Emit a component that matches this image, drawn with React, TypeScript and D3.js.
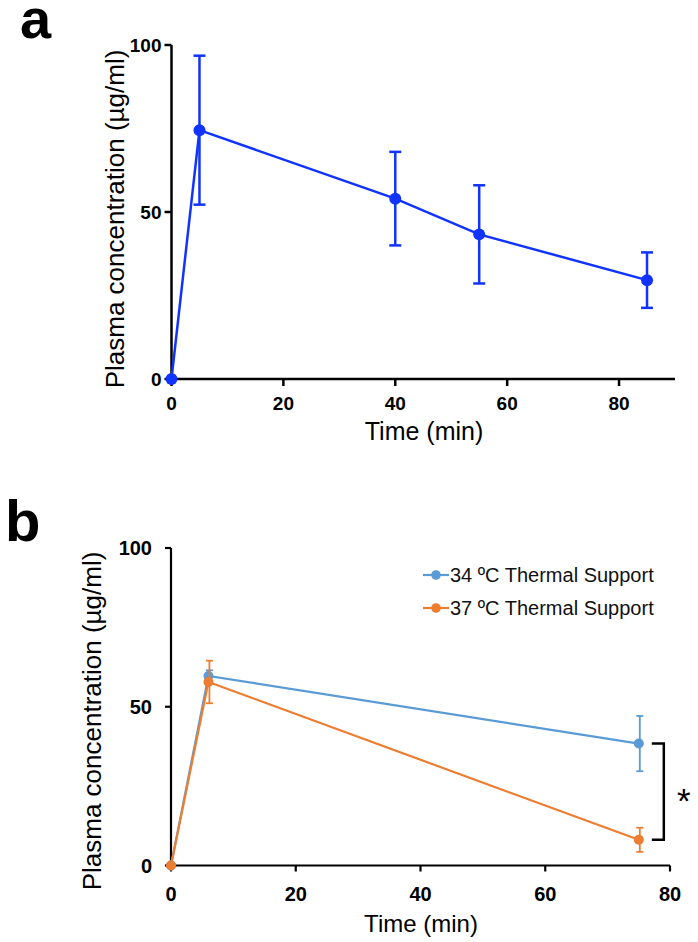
import React from "react";
import * as d3 from "d3";

// Panel a data
const timeA = [0, 5, 40, 55, 85];
const meanA = [0, 74.5, 54, 43.3, 29.6];
const sdA = [0, 22.3, 14, 14.7, 8.3];

// Panel b data
const timeB = [0, 6, 75];
const seriesBNames = ["34 ºC Thermal Support", "37 ºC Thermal Support"];
const meanB34 = [0, 59.7, 38.4];
const sdB34 = [0, 1.8, 8.7];
const meanB37 = [0, 57.8, 8.1];
const sdB37 = [0, 6.7, 3.8];

const yTicks = [0, 50, 100];
const xTicksA = [0, 20, 40, 60, 80];
const xTicksB = [0, 20, 40, 60, 80];

const FONT = "'Liberation Sans', Arial, Helvetica, sans-serif";

export default function App() {
  const xA = d3.scaleLinear().domain([0, 90]).range([171.5, 675]);
  const yA = d3.scaleLinear().domain([0, 100]).range([379, 45]);
  const xB = d3.scaleLinear().domain([0, 80]).range([171, 670]);
  const yB = d3.scaleLinear().domain([0, 100]).range([865.5, 548]);

  const blueA = "#1133ff";
  const blueB = "#5b9bd5";
  const orangeB = "#ed7d31";

  const lineA = d3
    .line<number>()
    .x((_, i) => xA(timeA[i]))
    .y((d) => yA(d));
  const lineB = d3
    .line<number>()
    .x((_, i) => xB(timeB[i]))
    .y((d) => yB(d));

  const seriesB = [
    { name: seriesBNames[0], mean: meanB34, sd: sdB34, color: blueB },
    { name: seriesBNames[1], mean: meanB37, sd: sdB37, color: orangeB },
  ];

  const lastI = timeB.length - 1;
  const bx = xB(timeB[lastI]) + 25;
  const bTop = yB(meanB34[lastI]);
  const bBot = yB(meanB37[lastI]);

  return (
    <svg
      width={698}
      height={942}
      style={{ position: "absolute", left: 0, top: 0, background: "#fff" }}
      fontFamily={FONT}
    >
      <rect x={0} y={0} width={698} height={942} fill="#fff" />
      <text x={20} y={38} fontSize={56} fontWeight="bold">a</text>
      <text x={5} y={541} fontSize={58} fontWeight="bold">b</text>

      {/* ---------- Panel a ---------- */}
      <g>
        <line x1={xA(0)} x2={xA(0)} y1={yA(100)} y2={yA(0)} stroke="#000" strokeWidth={2.5} />
        <line x1={xA(0)} x2={xA(90)} y1={yA(0)} y2={yA(0)} stroke="#000" strokeWidth={2.5} />
        {yTicks.map((t) => (
          <g key={"ya" + t}>
            <line x1={xA(0) - 7} x2={xA(0)} y1={yA(t)} y2={yA(t)} stroke="#000" strokeWidth={2.5} />
            <text x={xA(0) - 10} y={yA(t)} dy="0.36em" textAnchor="end" fontSize={19} fontWeight="bold">
              {t}
            </text>
          </g>
        ))}
        {xTicksA.map((t) => (
          <g key={"xa" + t}>
            <line x1={xA(t)} x2={xA(t)} y1={yA(0)} y2={yA(0) + 7} stroke="#000" strokeWidth={2.5} />
            <text x={xA(t)} y={yA(0) + 31} textAnchor="middle" fontSize={19} fontWeight="bold">
              {t}
            </text>
          </g>
        ))}
        <text x={424} y={440} textAnchor="middle" fontSize={25}>Time (min)</text>
        <text
          transform={`translate(124, 219) rotate(-90)`}
          textAnchor="middle"
          fontSize={26}
        >
          Plasma concentration (µg/ml)
        </text>

        <path d={lineA(meanA) || ""} fill="none" stroke={blueA} strokeWidth={2.5} />
        {meanA.map((m, i) =>
          sdA[i] > 0 ? (
            <g key={"ea" + i} stroke={blueA} strokeWidth={2.5}>
              <line x1={xA(timeA[i])} x2={xA(timeA[i])} y1={yA(m + sdA[i])} y2={yA(m - sdA[i])} />
              <line x1={xA(timeA[i]) - 6} x2={xA(timeA[i]) + 6} y1={yA(m + sdA[i])} y2={yA(m + sdA[i])} />
              <line x1={xA(timeA[i]) - 6} x2={xA(timeA[i]) + 6} y1={yA(m - sdA[i])} y2={yA(m - sdA[i])} />
            </g>
          ) : null
        )}
        {meanA.map((m, i) => (
          <circle key={"pa" + i} cx={xA(timeA[i])} cy={yA(m)} r={6} fill={blueA} />
        ))}
      </g>

      {/* ---------- Panel b ---------- */}
      <g>
        <line x1={xB(0)} x2={xB(0)} y1={yB(100)} y2={yB(0)} stroke="#000" strokeWidth={2.2} />
        <line x1={xB(0)} x2={xB(80)} y1={yB(0)} y2={yB(0)} stroke="#000" strokeWidth={2.2} />
        {yTicks.map((t) => (
          <g key={"yb" + t}>
            <line x1={xB(0) - 6} x2={xB(0)} y1={yB(t)} y2={yB(t)} stroke="#000" strokeWidth={2.2} />
            <text x={xB(0) - 19} y={yB(t)} dy="0.36em" textAnchor="end" fontSize={20} fontWeight="bold">
              {t}
            </text>
          </g>
        ))}
        {xTicksB.map((t) => (
          <g key={"xb" + t}>
            <line x1={xB(t)} x2={xB(t)} y1={yB(0)} y2={yB(0) + 6} stroke="#000" strokeWidth={2.2} />
            <text x={xB(t)} y={yB(0) + 35} textAnchor="middle" fontSize={20} fontWeight="bold">
              {t}
            </text>
          </g>
        ))}
        <text x={421} y={932} textAnchor="middle" fontSize={24}>Time (min)</text>
        <text
          transform={`translate(101, 721) rotate(-90)`}
          textAnchor="middle"
          fontSize={26}
        >
          Plasma concentration (µg/ml)
        </text>

        {seriesB.map((s) => (
          <g key={s.name}>
            <path d={lineB(s.mean) || ""} fill="none" stroke={s.color} strokeWidth={2.2} />
            {s.mean.map((m, i) =>
              s.sd[i] > 0 ? (
                <g key={"eb" + i} stroke={s.color} strokeWidth={1.8}>
                  <line x1={xB(timeB[i]) + 1} x2={xB(timeB[i]) + 1} y1={yB(m + s.sd[i])} y2={yB(m - s.sd[i])} />
                  <line x1={xB(timeB[i]) - 2.5} x2={xB(timeB[i]) + 4.5} y1={yB(m + s.sd[i])} y2={yB(m + s.sd[i])} />
                  <line x1={xB(timeB[i]) - 2.5} x2={xB(timeB[i]) + 4.5} y1={yB(m - s.sd[i])} y2={yB(m - s.sd[i])} />
                </g>
              ) : null
            )}
            {s.mean.map((m, i) => (
              <circle key={"pb" + i} cx={xB(timeB[i])} cy={yB(m)} r={5} fill={s.color} />
            ))}
          </g>
        ))}

        <path
          d={`M${bx - 12},${bTop} H${bx} V${bBot} H${bx - 12}`}
          fill="none"
          stroke="#000"
          strokeWidth={2.5}
        />
        <text x={bx + 20} y={(bTop + bBot) / 2 + 21} textAnchor="middle" fontSize={35}>*</text>

        {seriesB.map((s, i) => (
          <g key={"lg" + i} transform={`translate(423, ${575 + i * 33})`}>
            <line x1={0} x2={26} y1={0} y2={0} stroke={s.color} strokeWidth={2.2} />
            <circle cx={13} cy={0} r={4.8} fill={s.color} />
            <text x={27} y={7} fontSize={20} fill="#111">{s.name}</text>
          </g>
        ))}
      </g>
    </svg>
  );
}
